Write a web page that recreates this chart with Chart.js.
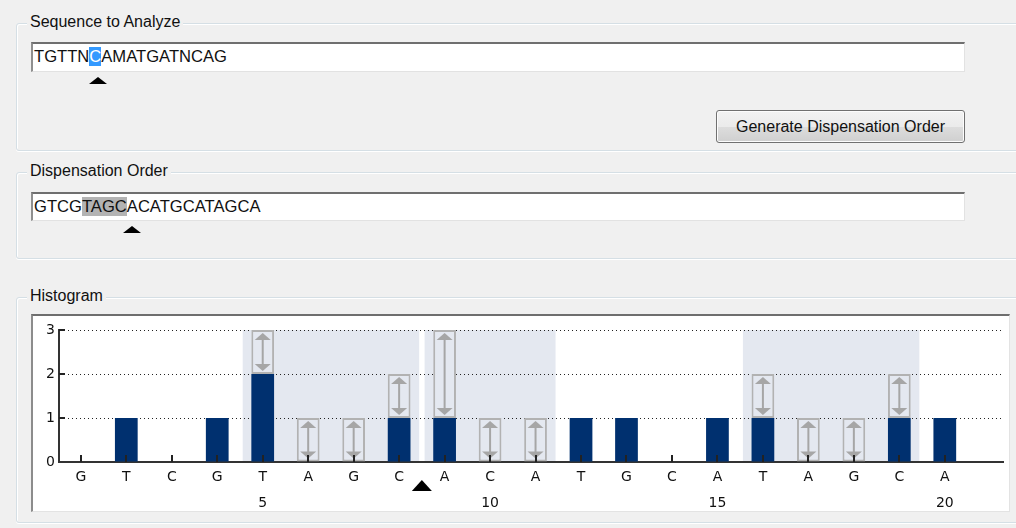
<!DOCTYPE html>
<html>
<head>
<meta charset="utf-8">
<title>Histogram</title>
<script src="https://cdn.jsdelivr.net/npm/chart.js"></script>
<style>
  body { margin:0; width:1016px; height:528px; background:#f0f0f0; overflow:hidden; position:relative;
         font-family:"Liberation Sans", Arial, sans-serif; font-size:16px; color:#111; }
  .group { position:absolute; left:16px; width:1020px; box-sizing:border-box; border:1px solid #d5dfe5;
           border-radius:3px; box-shadow: inset 1px 1px 0 #fff, 0 1px 0 #fff; }
  .legend { position:absolute; left:10px; top:-12px; background:#f0f0f0; padding:0 3px; line-height:20px; white-space:nowrap; }
  .field { position:absolute; left:31px; width:934px; box-sizing:border-box; background:#fff; font-size:16.6px;
           border-top:2px solid #6f6f6f; border-left:2px solid #8f8f8f; border-right:1px solid #e2e2e2; border-bottom:1px solid #e2e2e2;
           padding:2px 0 0 1px; line-height:22px; white-space:nowrap; }
  .sel-blue { background:#3399ff; color:#fff; }
  .sel-gray { background:#b3b3b3; }
  .tri { position:absolute; width:0; height:0; border-left:9px solid transparent; border-right:9px solid transparent; border-bottom:7px solid #000; }
  .btn { position:absolute; left:716px; top:110px; width:249px; height:33px; box-sizing:border-box;
         border:1px solid #707070; border-radius:3px; background:linear-gradient(#f2f2f2 0%, #ebebeb 50%, #dddddd 51%, #cfcfcf 100%);
         text-align:center; line-height:31px; box-shadow: inset 0 0 0 1px #fcfcfc; }
  .plotbox { position:absolute; left:31px; top:314px; width:979px; height:198px; box-sizing:border-box; background:#fff;
             border-top:2px solid #6e6e6e; border-left:2px solid #8c8c8c; border-right:1px solid #e3e3e3; border-bottom:1px solid #e3e3e3; }
  .plotbox div { position:relative; width:976px; height:195px; }
</style>
</head>
<body>
<div class="group" style="top:23px;height:128px;"><span class="legend">Sequence to Analyze</span></div>
<div class="field" style="top:42px;height:30px;">TGTTN<span class="sel-blue">C</span>AMATGATNCAG</div>
<div class="tri" style="left:89px;top:77px;"></div>
<div class="btn">Generate Dispensation Order</div>

<div class="group" style="top:172px;height:87px;"><span class="legend">Dispensation Order</span></div>
<div class="field" style="top:192px;height:29px;">GTCG<span class="sel-gray">TAGC</span>ACATGCATAGCA</div>
<div class="tri" style="left:123px;top:226px;"></div>

<div class="group" style="top:297px;height:226px;"><span class="legend">Histogram</span></div>
<div class="plotbox"><div><canvas id="histChart"></canvas></div></div>

<script>
// dispensation order and peak heights
const dispensation = ['G','T','C','G','T','A','G','C','A','C','A','T','G','C','A','T','A','G','C','A'];
const measured = [0,1,0,1,2,0,0,1,1,0,0,1,1,0,1,1,0,0,1,1];
const expected = [0,1,0,1,3,1,1,2,3,1,1,1,1,0,1,2,1,1,2,1];
const yTicks = [0,1,2,3];
const numberTicks = [5,10,15,20];
const regionStart = [5,9,16];
const regionEnd = [8,11,19];
const cursorAt = 8.5;

const barColor = '#00306f';
const shadeColor = '#e4e8f0';
const boxColor = '#b2b2b2';

const boxes = [];
expected.forEach((v, i) => {
    if (v > measured[i]) boxes.push({ x: i + 1, y: [measured[i], v] });
});

// light blue bands behind the dispensation windows
const shadePlugin = {
    id: 'shade',
    beforeDraw(chart) {
        const { ctx, scales: { x, y } } = chart;
        ctx.save();
        ctx.fillStyle = shadeColor;
        regionStart.forEach((s, i) => {
            const x0 = x.getPixelForValue(s - 0.44);
            const x1 = x.getPixelForValue(regionEnd[i] + 0.44);
            const y0 = y.getPixelForValue(3);
            const y1 = y.getPixelForValue(0);
            ctx.fillRect(x0, y0, x1 - x0, y1 - y0);
        });
        ctx.restore();
    }
};

// arrows, inward ticks and the cursor marker
const markPlugin = {
    id: 'marks',
    afterDatasetsDraw(chart) {
        const { ctx, chartArea, scales: { x, y } } = chart;
        ctx.save();

        chart.getDatasetMeta(1).data.forEach(el => {
            const p = el.getProps(['x', 'y', 'base'], true);
            const top = Math.min(p.y, p.base), bot = Math.max(p.y, p.base);
            ctx.strokeStyle = '#a6a6a6';
            ctx.fillStyle = '#a6a6a6';
            ctx.lineWidth = 2;
            ctx.beginPath();
            ctx.moveTo(p.x, top + 6);
            ctx.lineTo(p.x, bot - 6);
            ctx.stroke();
            ctx.beginPath();
            ctx.moveTo(p.x, top + 3);
            ctx.lineTo(p.x - 8, top + 10);
            ctx.lineTo(p.x + 8, top + 10);
            ctx.closePath();
            ctx.fill();
            ctx.beginPath();
            ctx.moveTo(p.x, bot - 3);
            ctx.lineTo(p.x - 8, bot - 10);
            ctx.lineTo(p.x + 8, bot - 10);
            ctx.closePath();
            ctx.fill();
        });

        ctx.strokeStyle = '#222';
        ctx.lineWidth = 2;
        dispensation.forEach((c, i) => {
            const px = Math.round(x.getPixelForValue(i + 1));
            ctx.beginPath();
            ctx.moveTo(px, chartArea.bottom);
            ctx.lineTo(px, chartArea.bottom - 7);
            ctx.stroke();
        });
        yTicks.slice(1).forEach(v => {
            const py = Math.round(y.getPixelForValue(v));
            ctx.beginPath();
            ctx.moveTo(chartArea.left, py);
            ctx.lineTo(chartArea.left + 6, py);
            ctx.stroke();
        });

        const cx = x.getPixelForValue(cursorAt);
        ctx.fillStyle = '#000';
        ctx.beginPath();
        ctx.moveTo(cx, chartArea.bottom + 18);
        ctx.lineTo(cx - 10, chartArea.bottom + 29);
        ctx.lineTo(cx + 10, chartArea.bottom + 29);
        ctx.closePath();
        ctx.fill();
        ctx.restore();
    }
};

const ctx = document.getElementById('histChart').getContext('2d');
new Chart(ctx, {
    type: 'bar',
    data: {
        datasets: [{
            data: measured.map((v, i) => ({ x: i + 1, y: v })),
            backgroundColor: barColor,
            borderWidth: 0,
            barPercentage: 0.5,
            categoryPercentage: 1,
            grouped: false
        }, {
            data: boxes,
            backgroundColor: shadeColor,
            borderColor: boxColor,
            borderWidth: 2,
            borderSkipped: false,
            barPercentage: 0.5,
            categoryPercentage: 1,
            grouped: false
        }]
    },
    options: {
        responsive: true,
        maintainAspectRatio: false,
        animation: false,
        layout: { padding: { top: 14, right: 6, left: 0, bottom: 0 } },
        plugins: { legend: { display: false }, tooltip: { enabled: false } },
        scales: {
            x: {
                type: 'linear',
                offset: false,
                min: 0.52,
                max: 21.28,
                grid: { display: false },
                border: { display: true, color: '#333', width: 2 },
                afterBuildTicks: s => { s.ticks = dispensation.map((c, i) => ({ value: i + 1 })); },
                afterFit: s => { s.height = 49; },
                ticks: {
                    autoSkip: false,
                    maxRotation: 0,
                    padding: -6,
                    color: '#111',
                    font: { family: 'DejaVu Sans', size: 14, lineHeight: '26px' },
                    callback: v => numberTicks.includes(v) ? [dispensation[v - 1], String(v)] : dispensation[v - 1]
                }
            },
            y: {
                min: 0,
                max: 3,
                afterBuildTicks: s => { s.ticks = yTicks.map(v => ({ value: v })); },
                afterFit: s => { s.width = 26; },
                grid: {
                    color: c => c.tick && c.tick.value === 0 ? 'rgba(0,0,0,0)' : '#222',
                    drawTicks: false,
                    lineWidth: 1
                },
                border: { color: '#333', width: 2, dash: [1, 3] },
                ticks: { padding: 4, color: '#111', font: { family: 'DejaVu Sans', size: 14 } }
            }
        }
    },
    plugins: [shadePlugin, markPlugin]
});
</script>
</body>
</html>
